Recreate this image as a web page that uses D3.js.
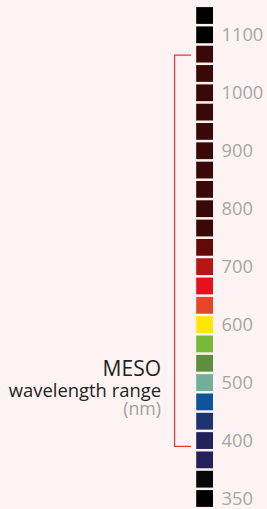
<!DOCTYPE html>
<html>
<head>
<meta charset="utf-8">
<script src="https://cdn.jsdelivr.net/npm/d3@7"></script>
<style>
  html, body { margin: 0; padding: 0; background: #fdf3f3; }
  svg { display: block; font-family: "Open Sans", sans-serif; }
</style>
</head>
<body>
<script>
'use strict';

// square colours, bottom (350 nm) to top
const squareColors = [
  "#000000", "#080808", "#23205a", "#23205a", "#1e3470", "#0d5598",
  "#72ae98", "#5d8f3e", "#79b93a", "#ffe800", "#e64527", "#e5101c",
  "#b81414", "#640a06", "#3a0806", "#3a0806", "#3a0806", "#3a0806",
  "#3a0806", "#3a0806", "#3a0806", "#3a0806", "#3a0806", "#3a0806",
  "#000000", "#000000"
];

// tick labels (nm) and the square each one sits on
const tickLabels = [350, 400, 500, 600, 700, 800, 900, 1000, 1100];
const tickSquares = [0, 3, 6, 9, 12, 15, 18, 21, 24];

// MESO bracket, in nm
const bracketNm = [395, 1065];

const titleLines = ["MESO", "wavelength range", "(nm)"];

const width = 267, height = 509;

let svg = d3.select("body").append("svg")
  .attr("width", width)
  .attr("height", height);

// nm -> square index (the scale is squeezed below 400)
let nmToIdx = d3.scaleLinear()
  .domain([tickLabels[0], tickLabels[1], tickLabels[tickLabels.length - 1]])
  .range([tickSquares[0], tickSquares[1], tickSquares[tickSquares.length - 1]]);

// square index -> y of square centre
let y = d3.scaleLinear()
  .domain([0, squareColors.length - 1])
  .range([498.5, 15.5]);

let sq = 16.8;
let sqX = 196.2;

svg.selectAll(".sq")
  .data(squareColors)
  .enter()
  .append("rect")
  .attr("class", "sq")
  .attr("x", sqX)
  .attr("y", (d, i) => y(i) - sq / 2)
  .attr("width", sq)
  .attr("height", sq)
  .attr("fill", (d) => d);

// tick labels on the right
svg.selectAll(".tick")
  .data(tickLabels)
  .enter()
  .append("text")
  .attr("class", "tick")
  .attr("x", 221.5)
  .attr("y", (d, i) => y(tickSquares[i]))
  .attr("dy", "0.36em")
  .style("font-size", "18.3px")
  .attr("fill", "#a6a6a6")
  .text((d) => d);

// bracket
let bx = 174.6, bEnd = 191;
let yTop = y(nmToIdx(bracketNm[1]));
let yBot = y(nmToIdx(bracketNm[0]));
svg.append("path")
  .attr("d", `M${bEnd},${yTop}H${bx}V${yBot}H${bEnd}`)
  .attr("fill", "none")
  .attr("stroke", "#e8343f")
  .attr("stroke-width", 1.2);

// label, one text per line
let lines = [
  { t: titleLines[0], y: 376, size: 21, fill: "#222" },
  { t: titleLines[1], y: 396.5, size: 18.4, fill: "#222" },
  { t: titleLines[2], y: 415, size: 17.8, fill: "#a0a0a0" }
];
svg.selectAll(".lbl")
  .data(lines)
  .enter()
  .append("text")
  .attr("class", "lbl")
  .attr("text-anchor", "end")
  .attr("x", 161)
  .attr("y", (d) => d.y)
  .style("font-size", (d) => d.size + "px")
  .attr("fill", (d) => d.fill)
  .text((d) => d.t);
</script>
</body>
</html>
